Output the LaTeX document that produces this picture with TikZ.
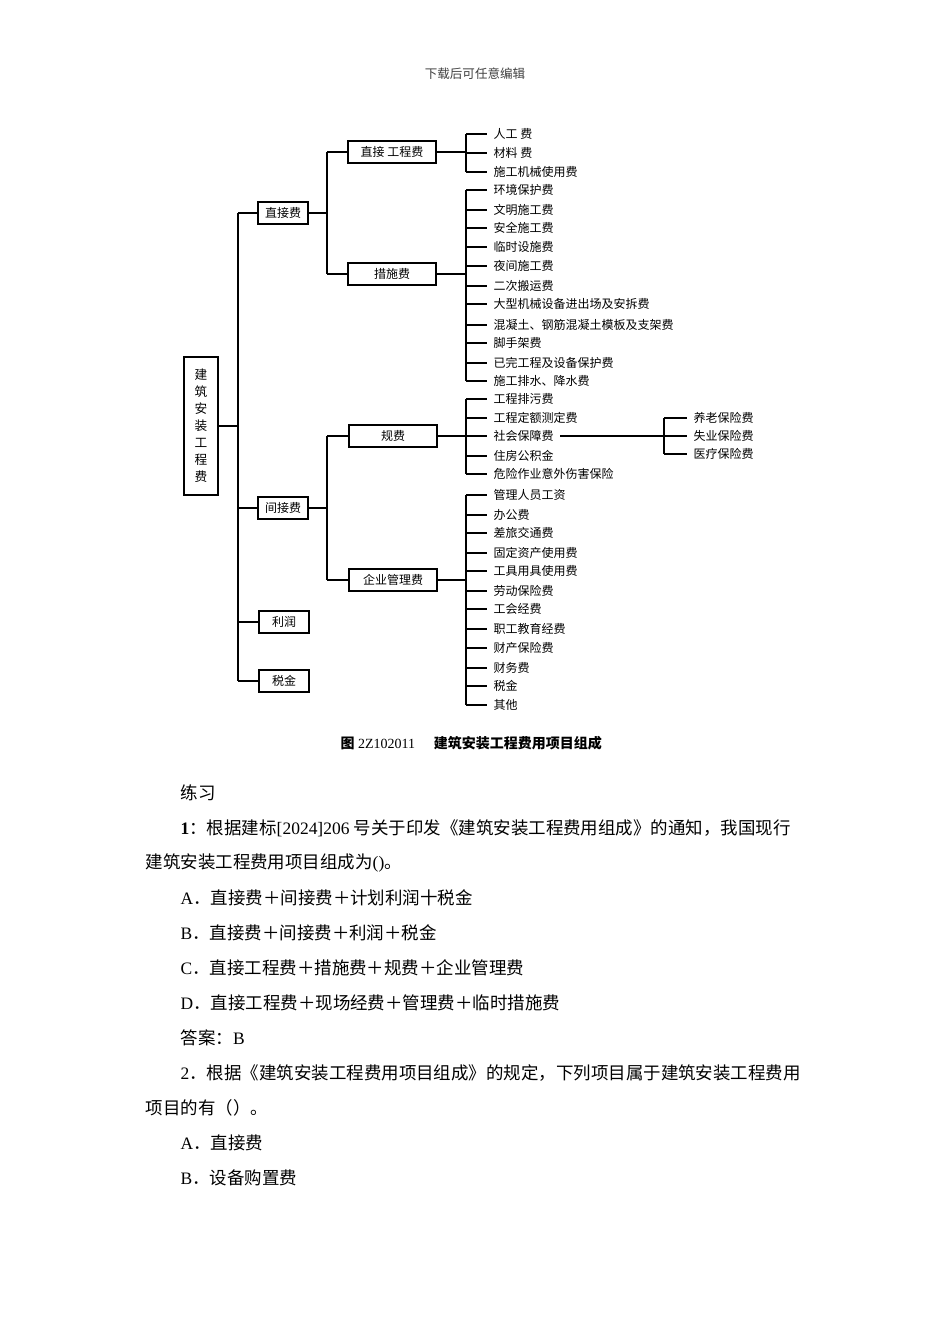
\documentclass[tikz,border=0pt]{standalone}
\usepackage{fontspec}
\setmainfont{Liberation Serif}
\newfontfamily\cjk{Noto Sans CJK SC}
\newcommand\zh[1]{{\cjk #1}}
\usetikzlibrary{positioning}

\tikzset{
  box/.style={draw, line width=1.4pt, inner sep=2pt, minimum height=16pt,
    font=\cjk\fontsize{9}{10}\selectfont},
  lvone/.style={box, minimum width=37pt},
  lvtwo/.style={box, minimum width=66pt},
  leaf/.style={anchor=west, inner xsep=4.5pt, inner ysep=1pt,
    font=\cjk\fontsize{9}{10}\selectfont},
  line/.style={anchor=west, inner sep=0pt, font=\fontsize{13.1}{15}\selectfont}
}

\begin{document}
\begin{tikzpicture}[x=0.75pt, y=-0.75pt, line width=1pt]
    \useasboundingbox[fill=white] (0,0) rectangle (950,1344);

    % Page header
    \node[font=\cjk\fontsize{9.4}{10}\selectfont, text=black!75] (head) at (475,74) {下载后可任意编辑};

    % Root and first level
    \node[box, align=center, minimum width=25pt, minimum height=103pt,
      font=\cjk\fontsize{9.5}{12.75}\selectfont] (root) at (201,426)
      {建\\筑\\安\\装\\工\\程\\费};
    \coordinate (bus0) at (238,0);
    \node[lvone] (zjf) at (283,213) {直接费};
    \node[lvone] (jjf) at (283,508) {间接费};
    \node[lvone] (lr) at (284,622) {利润};
    \node[lvone] (sj) at (284,681) {税金};
    \draw (root.east) -- (bus0 |- root);
    \draw (bus0 |- zjf) -- (bus0 |- sj);
    \foreach \n in {zjf,jjf,lr,sj}
        \draw (bus0 |- \n) -- (\n.west);

    % Second level
    \coordinate (bus1) at (327,0);
    \node[lvtwo] (zjgc) at (392,152) {直接 工程费};
    \node[lvtwo] (csf) at (392,274) {措施费};
    \node[lvtwo] (gf) at (393,436) {规费};
    \node[lvtwo] (qy) at (393,580) {企业管理费};
    \draw (zjf.east) -- (bus1 |- zjf);
    \draw (jjf.east) -- (bus1 |- jjf);
    \draw (bus1 |- zjgc) -- (bus1 |- csf);
    \draw (bus1 |- gf) -- (bus1 |- qy);
    \foreach \n in {zjgc,csf,gf,qy}
        \draw (bus1 |- \n) -- (\n.west);

    % Leaves
    \coordinate (bus2) at (466,0);
    \foreach \y/\t [count=\i] in {134/人工 费, 153/材料 费, 172/施工机械使用费} {
        \node[leaf] (la\i) at (487,\y) {\t};
        \draw (bus2 |- la\i) -- (la\i.west);
    }
    \draw (zjgc.east) -- (bus2 |- zjgc);
    \draw (bus2 |- la1) -- (bus2 |- la3);

    \foreach \y/\t [count=\i] in {190/环境保护费, 210/文明施工费, 228/安全施工费,
        247/临时设施费, 266/夜间施工费, 286/二次搬运费, 304/大型机械设备进出场及安拆费,
        325/混凝土、钢筋混凝土模板及支架费, 343/脚手架费, 363/已完工程及设备保护费,
        381/施工排水、降水费} {
        \node[leaf] (lb\i) at (487,\y) {\t};
        \draw (bus2 |- lb\i) -- (lb\i.west);
    }
    \draw (csf.east) -- (bus2 |- csf);
    \draw (bus2 |- lb1) -- (bus2 |- lb11);

    \foreach \y/\t [count=\i] in {399/工程排污费, 418/工程定额测定费, 436/社会保障费,
        456/住房公积金, 474/危险作业意外伤害保险} {
        \node[leaf] (lc\i) at (487,\y) {\t};
        \draw (bus2 |- lc\i) -- (lc\i.west);
    }
    \draw (gf.east) -- (bus2 |- gf);
    \draw (bus2 |- lc1) -- (bus2 |- lc5);

    % Social insurance
    \coordinate (bus3) at (664,0);
    \foreach \y/\t [count=\i] in {418/养老保险费, 436/失业保险费, 454/医疗保险费} {
        \node[leaf] (ld\i) at (687,\y) {\t};
        \draw (bus3 |- ld\i) -- (ld\i.west);
    }
    \draw (lc3.east) -- (bus3 |- lc3);
    \draw (bus3 |- ld1) -- (bus3 |- ld3);

    \foreach \y/\t [count=\i] in {495/管理人员工资, 515/办公费, 533/差旅交通费,
        553/固定资产使用费, 571/工具用具使用费, 591/劳动保险费, 609/工会经费,
        629/职工教育经费, 648/财产保险费, 668/财务费, 686/税金, 705/其他} {
        \node[leaf] (le\i) at (487,\y) {\t};
        \draw (bus2 |- le\i) -- (le\i.west);
    }
    \draw (qy.east) -- (bus2 |- qy);
    \draw (bus2 |- le1) -- (bus2 |- le12);

    % Caption
    \node[anchor=west, inner sep=0pt, font=\fontsize{10.5}{12}\selectfont] (cap) at (340,743)
      {\zh{\bfseries 图} 2Z102011\hspace{14pt}\zh{\bfseries 建筑安装工程费用项目组成}};

    % Exercise text
    \node[line] (t1) at (180,793) {\zh{练习}};
    \node[line] (t2) at (180,828) {\textbf{1}\zh{：根据建标}[2024]206 \zh{号关于印发《建筑安装工程费用组成》的通知，我国现行}};
    \node[line] (t3) at (145,863) {\zh{建筑安装工程费用项目组成为}()\zh{。}};
    \node[line] (t4) at (180,898) {A\zh{．直接费＋间接费＋计划利润十税金}};
    \node[line] (t5) at (180,933) {B\zh{．直接费＋间接费＋利润＋税金}};
    \node[line] (t6) at (180,968) {C\zh{．直接工程费＋措施费＋规费＋企业管理费}};
    \node[line] (t7) at (180,1003) {D\zh{．直接工程费＋现场经费＋管理费＋临时措施费}};
    \node[line] (t8) at (180,1038) {\zh{答案：}B};
    \node[line] (t9) at (180,1073) {2\zh{．根据《建筑安装工程费用项目组成》的规定，下列项目属于建筑安装工程费用}};
    \node[line] (t10) at (145,1108) {\zh{项目的有（）。}};
    \node[line] (t11) at (180,1143) {A\zh{．直接费}};
    \node[line] (t12) at (180,1178) {B\zh{．设备购置费}};
\end{tikzpicture}
\end{document}
